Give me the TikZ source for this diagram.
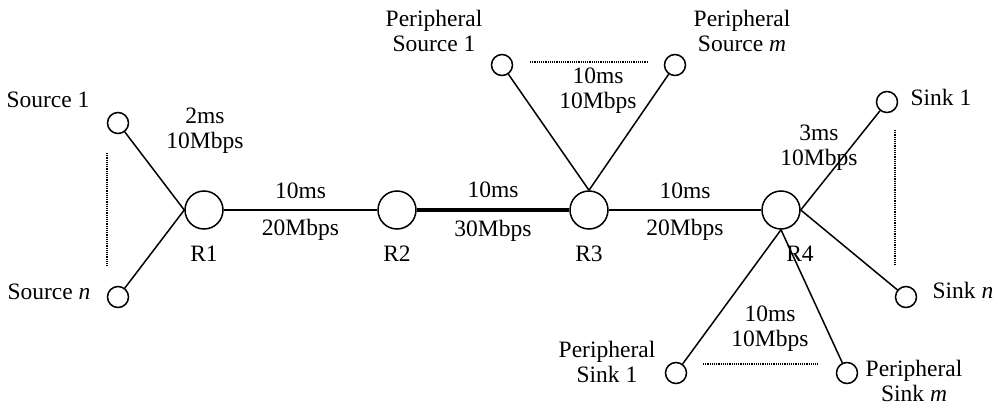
\documentclass[tikz,border=0pt]{standalone}
\usepackage{fontspec}
\setmainfont{Liberation Serif}
\tikzset{
  router/.style={circle,draw,line width=1.5pt,minimum size=38pt,inner sep=0pt},
  host/.style={circle,draw,line width=1.5pt,minimum size=21pt,inner sep=0pt},
  link/.style={line width=1.5pt},
  fatlink/.style={line width=4.5pt},
  gap/.style={densely dotted,line width=1.2pt},
  txt/.style={align=center,inner sep=0pt}
}
\begin{document}
\begin{tikzpicture}[x=1pt,y=-1pt,font=\fontsize{23.5}{25}\selectfont]
\useasboundingbox (0,0) rectangle (996,406);
% routers
\node[router,label={[label distance=13pt]below:R1}] (r1) at (204,210) {};
\node[router,label={[label distance=13pt]below:R2}] (r2) at (397,210) {};
\node[router,label={[label distance=13pt]below:R3}] (r3) at (589,210) {};
\node[router,label={[label distance=13pt,xshift=19pt]below:R4}] (r4) at (781,210) {};
% end hosts
\foreach \n/\x/\y in {src1/118/123,srcn/118/297,psrc1/502/65,psrcm/675/65,
  sink1/887/102,sinkn/906/297,psink1/676/373,psinkm/847/373}
  \node[host] (\n) at (\x,\y) {};
\node[txt] (lsrc1) at (48,100) {Source 1};
\node[txt] (lsrcn) at (49,292) {Source \textit{n}};
\node[txt] (lpsrc1) at (434,31) {Peripheral\\Source 1};
\node[txt] (lpsrcm) at (742,31) {Peripheral\\Source \textit{m}};
\node[txt] (lsink1) at (941,97) {Sink 1};
\node[txt] (lsinkn) at (963,290) {Sink \textit{n}};
\node[txt] (lpsink1) at (607,362) {Peripheral\\Sink 1};
\node[txt] (lpsinkm) at (914,381) {Peripheral\\Sink \textit{m}};
% links
\draw[link] (src1) -- (r1.west);
\draw[link] (srcn) -- (r1.west);
\draw[link] (r1) -- node[above=7pt]{10ms} node[below=5pt]{20Mbps} (r2);
\draw[fatlink] (r2) -- node[above=7pt]{10ms} node[below=5pt]{30Mbps} (r3);
\draw[link] (r3) -- node[above=7pt]{10ms} node[below=5pt]{20Mbps} (r4);
\draw[link] (psrc1) -- (r3.north);
\draw[link] (psrcm) -- (r3.north);
\draw[link] (r4.east) -- (sink1);
\draw[link] (r4.east) -- (sinkn);
\draw[link] (r4.south) -- (psink1);
\draw[link] (r4.south) -- (psinkm);
\node[txt] (d1) at (205,131) {2ms\\10Mbps};
\node[txt] (d3) at (598,91) {10ms\\10Mbps};
\node[txt] (d4) at (819,148) {3ms\\10Mbps};
\node[txt] (d5) at (770,329) {10ms\\10Mbps};
% dotted gaps
\coordinate (g1a) at (107,153); \coordinate (g1b) at (107,267);
\coordinate (g2a) at (530,62);  \coordinate (g2b) at (647,62);
\coordinate (g3a) at (895,130); \coordinate (g3b) at (895,265);
\coordinate (g4a) at (703,364); \coordinate (g4b) at (818,364);
\foreach \g in {1,...,4} \draw[gap] (g\g a) -- (g\g b);
\end{tikzpicture}
\end{document}
